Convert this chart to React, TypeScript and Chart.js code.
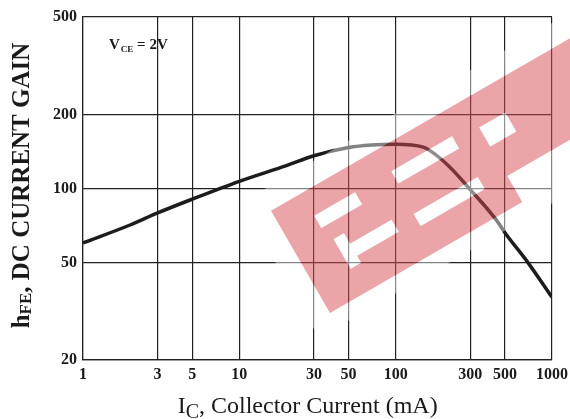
import React, { useEffect, useRef } from "react";
import { Chart, registerables } from "chart.js";

Chart.register(...registerables);

// Collector current (mA) and DC current gain
const currentMA = [1, 2, 3, 5, 10, 20, 30, 50, 70, 100, 150, 165, 220, 300, 440, 500, 700, 1000];
const hFE = [60, 71, 79.5, 90.5, 107, 124, 136, 147, 150.5, 151.5, 147.5, 143, 123, 99, 74.5, 66, 50, 36];

const xTickValues = [1, 3, 5, 10, 30, 50, 100, 300, 500, 1000];
const yTickValues = [20, 50, 100, 200, 500];

const SERIF = "'Liberation Serif', 'Times New Roman', serif";
const INK = "#1a1a1a";

function drawWatermark(ctx: CanvasRenderingContext2D, ox: number, oy: number) {
  ctx.save();
  ctx.translate(ox, oy);
  ctx.rotate((-30 * Math.PI) / 180);
  const rect = (u0: number, v0: number, u1: number, v1: number) => ctx.rect(u0, -v1, u1 - u0, v1 - v0);
  const outline = () => {
    ctx.moveTo(0, 0);
    ctx.lineTo(222, 0);
    ctx.lineTo(222, -30);
    ctx.lineTo(470, -30);
    ctx.lineTo(470, -118);
    ctx.lineTo(0, -118);
    ctx.closePath();
  };
  const holes = () => {
    rect(35, 78, 82, 92);
    rect(40, 28, 52, 62);
    rect(52, 36, 100, 50);
    rect(124, 78, 194, 92);
    rect(122, 30, 196, 44);
    rect(222, 64, 252, 86);
  };
  // white halo around the logo
  ctx.beginPath();
  rect(-22, -16, 480, 140);
  outline();
  ctx.fillStyle = "rgba(255,255,255,0.45)";
  ctx.fill("evenodd");
  // red letters
  ctx.beginPath();
  outline();
  holes();
  ctx.fillStyle = "rgba(216,75,84,0.5)";
  ctx.fill("evenodd");
  // white cut-outs
  ctx.beginPath();
  holes();
  ctx.fillStyle = "rgba(255,255,255,0.5)";
  ctx.fill();
  ctx.restore();
}

const decorPlugin = {
  id: "decor",
  afterDraw(chart: any) {
    const { ctx, chartArea } = chart;
    const { left, top, right, bottom } = chartArea;
    const w = right - left;

    drawWatermark(ctx, left + 247, top + 296);

    ctx.save();
    ctx.fillStyle = INK;
    ctx.textBaseline = "alphabetic";
    ctx.textAlign = "left";

    // V_CE = 2V annotation
    let x = left + 26;
    const by = top + 32;
    ctx.font = `bold 15px ${SERIF}`;
    ctx.fillText("V", x, by);
    x += ctx.measureText("V").width + 1;
    ctx.font = `bold 9px ${SERIF}`;
    ctx.fillText("CE", x, by + 3);
    x += ctx.measureText("CE").width;
    ctx.font = `bold 15px ${SERIF}`;
    ctx.fillText(" = 2V", x, by);

    // x axis title with subscript
    const parts: [string, string, number][] = [
      ["I", `24px ${SERIF}`, 0],
      ["C", `20px ${SERIF}`, 5],
      [", Collector Current (mA)", `24px ${SERIF}`, 0],
    ];
    let total = 0;
    for (const [t, f] of parts) {
      ctx.font = f;
      total += ctx.measureText(t).width;
    }
    x = left + w * 0.479 - total / 2;
    const xb = bottom + 53;
    for (const [t, f, dy] of parts) {
      ctx.font = f;
      ctx.fillText(t, x, xb + dy);
      x += ctx.measureText(t).width;
    }

    // y axis title with subscript, rotated
    const yparts: [string, string, number][] = [
      ["h", `bold 25px ${SERIF}`, 0],
      ["FE", `bold 17px ${SERIF}`, 2],
      [", DC CURRENT GAIN", `bold 25px ${SERIF}`, 0],
    ];
    total = 0;
    for (const [t, f] of yparts) {
      ctx.font = f;
      total += ctx.measureText(t).width;
    }
    ctx.translate(28.5, top + 168.5);
    ctx.rotate(-Math.PI / 2);
    x = -total / 2;
    for (const [t, f, dy] of yparts) {
      ctx.font = f;
      ctx.fillText(t, x, dy);
      x += ctx.measureText(t).width;
    }
    ctx.restore();
  },
};

export default function App() {
  const ref = useRef<HTMLCanvasElement | null>(null);

  useEffect(() => {
    if (!ref.current) return;
    const gridCommon = {
      color: "#222",
      lineWidth: 1.2,
      drawTicks: false,
    };
    const chart = new Chart(ref.current, {
      type: "line",
      data: {
        datasets: [
          {
            data: currentMA.map((c, i) => ({ x: c, y: hFE[i] })),
            borderColor: "#1c1c1c",
            borderWidth: 3.5,
            pointRadius: 0,
            fill: false,
            cubicInterpolationMode: "monotone",
          },
        ],
      },
      options: {
        animation: false,
        responsive: false,
        devicePixelRatio: 1,
        layout: { padding: { left: 0, top: 17, right: 18, bottom: 0 } },
        plugins: {
          legend: { display: false },
          tooltip: { enabled: false },
          title: { display: false },
        },
        scales: {
          x: {
            type: "logarithmic",
            min: 1,
            max: 1000,
            position: "bottom",
            grid: gridCommon,
            border: { display: true, color: "#222", width: 1.2 },
            afterBuildTicks: (scale: any) => {
              scale.ticks = xTickValues.map((v) => ({ value: v }));
            },
            afterFit: (scale: any) => {
              scale.height = 59;
              scale.paddingLeft = 0;
              scale.paddingRight = 0;
            },
            ticks: {
              autoSkip: false,
              maxRotation: 0,
              padding: 5,
              color: INK,
              font: { family: SERIF, size: 16, weight: "bold" },
              callback: (v: any) => String(v),
            },
          },
          y: {
            type: "logarithmic",
            min: 20,
            max: 500,
            grid: gridCommon,
            border: { display: true, color: "#222", width: 1.2 },
            afterBuildTicks: (scale: any) => {
              scale.ticks = yTickValues.map((v) => ({ value: v }));
            },
            afterFit: (scale: any) => {
              scale.width = 83;
              scale.paddingTop = 0;
              scale.paddingBottom = 0;
            },
            ticks: {
              autoSkip: false,
              padding: 6,
              color: INK,
              font: { family: SERIF, size: 16, weight: "bold" },
              callback: (v: any) => String(v),
            },
          },
        },
      } as any,
      plugins: [decorPlugin],
    });
    return () => chart.destroy();
  }, []);

  return (
    <div style={{ position: "fixed", left: 0, top: 0, width: 570, height: 419, background: "#fff" }}>
      <canvas ref={ref} width={570} height={419} style={{ width: 570, height: 419, display: "block" }} />
    </div>
  );
}
